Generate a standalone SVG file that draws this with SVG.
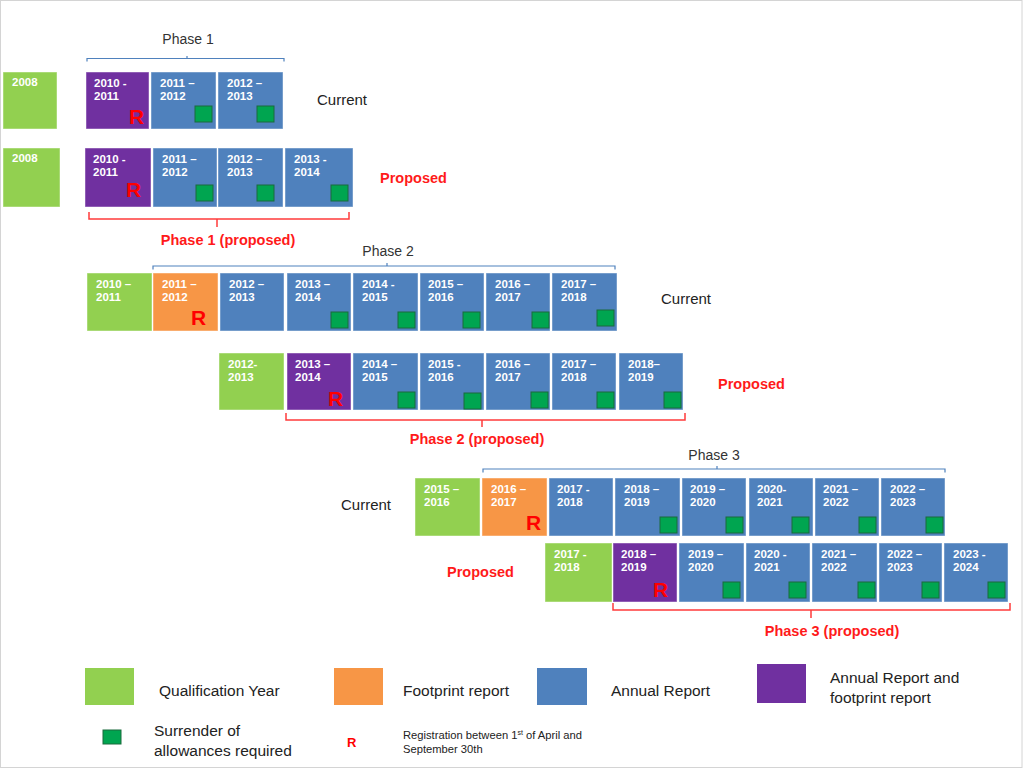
<svg xmlns="http://www.w3.org/2000/svg" width="1024" height="768" viewBox="0 0 1024 768">
<style>
.g{fill:#92D050}.o{fill:#F79646}.b{fill:#4F81BD}.p{fill:#7030A0}
.c{stroke:#ffffff;stroke-opacity:0.45;stroke-width:1}
.t{font-family:"Liberation Sans",Arial,sans-serif;font-weight:bold;font-size:11.5px;fill:#ffffff}
.sq{fill:#00A550;stroke:#1a6b3c;stroke-width:1}
.r{font-family:"Liberation Sans",Arial,sans-serif;font-weight:bold;font-size:21px;fill:#FF0000}
.lbl{font-family:"Liberation Sans",Arial,sans-serif;font-size:15px;fill:#222}
.red{font-family:"Liberation Sans",Arial,sans-serif;font-weight:bold;font-size:14.5px;fill:#FF1A1A}
.ph{font-family:"Liberation Sans",Arial,sans-serif;font-size:14px;fill:#333;text-anchor:middle}
.bb{fill:none;stroke:#4F81BD;stroke-width:1.2}
.rb{fill:none;stroke:#FF3B3B;stroke-width:1.5}
.leg{font-family:"Liberation Sans",Arial,sans-serif;font-size:15.5px;fill:#222}
.sm{font-family:"Liberation Sans",Arial,sans-serif;font-size:11.2px;fill:#222}
</style>
<rect x="0.5" y="0.5" width="1021.5" height="767" fill="#ffffff" stroke="#d4d4d4" stroke-width="1"/>

<g id="row1">
<rect class="g c" x="3" y="72" width="54" height="57"/><text class="t" x="12" y="86">2008</text>
<rect class="p c" x="86" y="72" width="63" height="57"/><text class="t" x="94" y="87">2010  -</text><text class="t" x="94" y="100">2011</text><text class="r" x="129" y="124">R</text>
<rect class="b c" x="151" y="72" width="65" height="57"/><text class="t" x="160" y="87">2011 –</text><text class="t" x="160" y="100">2012</text><rect class="sq" x="195" y="106" width="17" height="16"/>
<rect class="b c" x="218" y="72" width="65" height="57"/><text class="t" x="227" y="87">2012 –</text><text class="t" x="227" y="100">2013</text><rect class="sq" x="257" y="106" width="17" height="16"/>
</g>

<g id="row2">
<rect class="g c" x="3" y="148" width="57" height="59"/><text class="t" x="12" y="162">2008</text>
<rect class="p c" x="85" y="148" width="66" height="59"/><text class="t" x="93" y="163">2010  -</text><text class="t" x="93" y="176">2011</text><text class="r" x="126" y="197">R</text>
<rect class="b c" x="153" y="148" width="64" height="59"/><text class="t" x="162" y="163">2011 –</text><text class="t" x="162" y="176">2012</text><rect class="sq" x="196" y="185" width="17" height="16"/>
<rect class="b c" x="218" y="148" width="65" height="59"/><text class="t" x="227" y="163">2012 –</text><text class="t" x="227" y="176">2013</text><rect class="sq" x="257" y="185" width="17" height="16"/>
<rect class="b c" x="285" y="148" width="68" height="59"/><text class="t" x="294" y="163">2013 -</text><text class="t" x="294" y="176">2014</text><rect class="sq" x="331" y="185" width="17" height="16"/>
</g>

<g id="row3">
<rect class="g c" x="87" y="273" width="65" height="58"/><text class="t" x="96" y="288">2010 –</text><text class="t" x="96" y="301">2011</text>
<rect class="o c" x="153" y="273" width="65" height="58"/><text class="t" x="162" y="288">2011 –</text><text class="t" x="162" y="301">2012</text><text class="r" x="191" y="325">R</text>
<rect class="b c" x="220" y="273" width="64" height="58"/><text class="t" x="229" y="288">2012 –</text><text class="t" x="229" y="301">2013</text>
<rect class="b c" x="287" y="273" width="64" height="58"/><text class="t" x="295" y="288">2013 –</text><text class="t" x="295" y="301">2014</text><rect class="sq" x="331" y="312" width="17" height="16"/>
<rect class="b c" x="353" y="273" width="65" height="58"/><text class="t" x="362" y="288">2014  -</text><text class="t" x="362" y="301">2015</text><rect class="sq" x="398" y="312" width="17" height="16"/>
<rect class="b c" x="420" y="273" width="64" height="58"/><text class="t" x="428" y="288">2015 –</text><text class="t" x="428" y="301">2016</text><rect class="sq" x="463" y="312" width="17" height="16"/>
<rect class="b c" x="486" y="273" width="64" height="58"/><text class="t" x="495" y="288">2016 –</text><text class="t" x="495" y="301">2017</text><rect class="sq" x="532" y="312" width="17" height="16"/>
<rect class="b c" x="552" y="273" width="65" height="58"/><text class="t" x="561" y="288">2017 –</text><text class="t" x="561" y="301">2018</text><rect class="sq" x="597" y="310" width="17" height="16"/>
</g>

<g id="row4">
<rect class="g c" x="219" y="353" width="65" height="57"/><text class="t" x="228" y="368">2012-</text><text class="t" x="228" y="381">2013</text>
<rect class="p c" x="287" y="353" width="64" height="57"/><text class="t" x="295" y="368">2013 –</text><text class="t" x="295" y="381">2014</text><text class="r" x="328" y="406">R</text>
<rect class="b c" x="353" y="353" width="65" height="57"/><text class="t" x="362" y="368">2014 –</text><text class="t" x="362" y="381">2015</text><rect class="sq" x="398" y="392" width="17" height="16"/>
<rect class="b c" x="420" y="353" width="64" height="57"/><text class="t" x="428" y="368">2015 -</text><text class="t" x="428" y="381">2016</text><rect class="sq" x="464" y="393" width="17" height="16"/>
<rect class="b c" x="486" y="353" width="64" height="57"/><text class="t" x="495" y="368">2016 –</text><text class="t" x="495" y="381">2017</text><rect class="sq" x="531" y="392" width="17" height="16"/>
<rect class="b c" x="552" y="353" width="64" height="57"/><text class="t" x="561" y="368">2017 –</text><text class="t" x="561" y="381">2018</text><rect class="sq" x="597" y="392" width="17" height="16"/>
<rect class="b c" x="619" y="353" width="64" height="57"/><text class="t" x="628" y="368">2018–</text><text class="t" x="628" y="381">2019</text><rect class="sq" x="664" y="392" width="17" height="16"/>
</g>

<g id="row5">
<rect class="g c" x="415" y="478" width="65" height="58"/><text class="t" x="424" y="493">2015 –</text><text class="t" x="424" y="506">2016</text>
<rect class="o c" x="482" y="478" width="65" height="58"/><text class="t" x="491" y="493">2016 –</text><text class="t" x="491" y="506">2017</text><text class="r" x="526" y="530">R</text>
<rect class="b c" x="549" y="478" width="64" height="58"/><text class="t" x="557" y="493">2017 -</text><text class="t" x="557" y="506">2018</text>
<rect class="b c" x="615" y="478" width="65" height="58"/><text class="t" x="624" y="493">2018 –</text><text class="t" x="624" y="506">2019</text><rect class="sq" x="660" y="517" width="17" height="16"/>
<rect class="b c" x="682" y="478" width="64" height="58"/><text class="t" x="690" y="493">2019 –</text><text class="t" x="690" y="506">2020</text><rect class="sq" x="726" y="517" width="17" height="16"/>
<rect class="b c" x="749" y="478" width="64" height="58"/><text class="t" x="757" y="493">2020-</text><text class="t" x="757" y="506">2021</text><rect class="sq" x="792" y="517" width="17" height="16"/>
<rect class="b c" x="815" y="478" width="64" height="58"/><text class="t" x="823" y="493">2021 –</text><text class="t" x="823" y="506">2022</text><rect class="sq" x="859" y="517" width="17" height="16"/>
<rect class="b c" x="881" y="478" width="64" height="58"/><text class="t" x="890" y="493">2022 –</text><text class="t" x="890" y="506">2023</text><rect class="sq" x="926" y="517" width="17" height="16"/>
</g>

<g id="row6">
<rect class="g c" x="545" y="543" width="67" height="59"/><text class="t" x="554" y="558">2017 -</text><text class="t" x="554" y="571">2018</text>
<rect class="p c" x="613" y="543" width="64" height="59"/><text class="t" x="621" y="558">2018 –</text><text class="t" x="621" y="571">2019</text><text class="r" x="653" y="597">R</text>
<rect class="b c" x="679" y="543" width="65" height="59"/><text class="t" x="688" y="558">2019 –</text><text class="t" x="688" y="571">2020</text><rect class="sq" x="723" y="582" width="17" height="16"/>
<rect class="b c" x="746" y="543" width="64" height="59"/><text class="t" x="754" y="558">2020 -</text><text class="t" x="754" y="571">2021</text><rect class="sq" x="789" y="582" width="17" height="16"/>
<rect class="b c" x="812" y="543" width="65" height="59"/><text class="t" x="821" y="558">2021 –</text><text class="t" x="821" y="571">2022</text><rect class="sq" x="858" y="582" width="17" height="16"/>
<rect class="b c" x="879" y="543" width="63" height="59"/><text class="t" x="887" y="558">2022 –</text><text class="t" x="887" y="571">2023</text><rect class="sq" x="922" y="582" width="17" height="16"/>
<rect class="b c" x="944" y="543" width="64" height="59"/><text class="t" x="953" y="558">2023 -</text><text class="t" x="953" y="571">2024</text><rect class="sq" x="988" y="582" width="17" height="16"/>
</g>

<g id="connectors">
<path class="bb" d="M87,61.5 V58.5 H284 V61.5 M187,58.5 V56"/>
<path class="bb" d="M153,269.5 V266 H615 V269.5 M387,266 V263"/>
<path class="bb" d="M483,472.5 V469 H945 V472.5 M717,469 V466"/>
<path class="rb" d="M89,212 V219 H349 V212 M217,219 V227"/>
<path class="rb" d="M286,413 V420 H685 V413 M482,420 V427"/>
<path class="rb" d="M613,603 V610 H1010 V603 M811,610 V618"/>
</g>

<g id="labels">
<text class="ph" x="188" y="44">Phase 1</text>
<text class="lbl" x="317" y="105">Current</text>
<text class="red" x="380" y="183">Proposed</text>
<text class="red" x="228" y="245" text-anchor="middle">Phase 1 (proposed)</text>
<text class="ph" x="388" y="256">Phase 2</text>
<text class="lbl" x="661" y="304">Current</text>
<text class="red" x="718" y="389">Proposed</text>
<text class="red" x="477" y="444" text-anchor="middle">Phase 2 (proposed)</text>
<text class="ph" x="714" y="460">Phase 3</text>
<text class="lbl" x="341" y="510">Current</text>
<text class="red" x="447" y="577">Proposed</text>
<text class="red" x="832" y="636" text-anchor="middle">Phase 3 (proposed)</text>
</g>

<g id="legend">
<rect class="g" x="85" y="668" width="49" height="37"/><text class="leg" x="159" y="696">Qualification Year</text>
<rect class="o" x="334" y="668" width="49" height="37"/><text class="leg" x="403" y="696">Footprint report</text>
<rect class="b" x="537" y="668" width="50" height="37"/><text class="leg" x="611" y="696">Annual Report</text>
<rect class="p" x="757" y="664" width="49" height="39"/><text class="leg" x="830" y="683">Annual Report and</text><text class="leg" x="830" y="703">footprint report</text>
<rect class="sq" x="103" y="730" width="18" height="14"/>
<text class="leg" x="154" y="736">Surrender of</text><text class="leg" x="154" y="756">allowances required</text>
<text x="347" y="747" font-family="Liberation Sans, Arial, sans-serif" font-weight="bold" font-size="13" fill="#FF0000">R</text>
<text class="sm" x="403" y="739">Registration between 1<tspan font-size="7" dy="-4">st</tspan><tspan dy="4"> of April and</tspan></text>
<text class="sm" x="403" y="753">September 30th</text>
</g>
</svg>
